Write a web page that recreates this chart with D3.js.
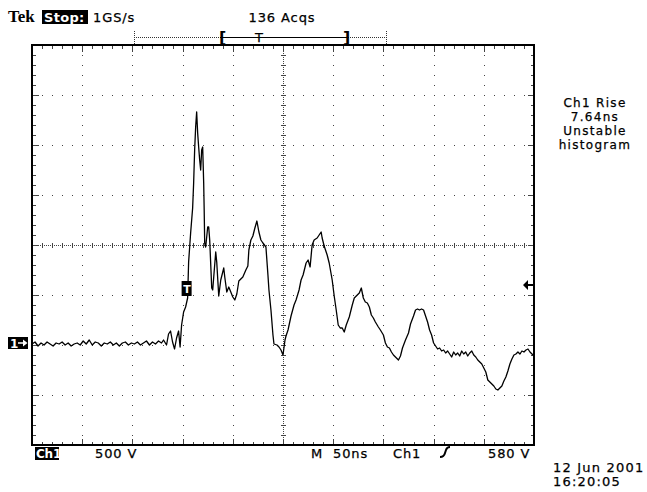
<!DOCTYPE html>
<html>
<head>
<meta charset="utf-8">
<script src="https://cdn.jsdelivr.net/npm/d3@7"></script>
<style>
  html, body { margin: 0; padding: 0; background: #fff; }
  svg { display: block; }
  text { font-family: "DejaVu Sans", sans-serif; font-size: 13px; fill: #000; letter-spacing: 0.9px; }
  text.ink { stroke: #000; stroke-width: 0.25px; }
</style>
</head>
<body>
<svg id="scope" width="647" height="492"></svg>
<script>
// Ch1 record: time from left of screen (ns) and voltage (V)
const baseTimeNs = [0,3,6,9,12,15,18,21,24,27,30,33,36,39,42,45,48,51,54,57,60,63,66,69,72,75,78,81,84,87,90,93,96,99,102,105,108,111,114,117,120,123,126,129];
const baseVolts  = [10,30,-10,20,0,30,10,-10,20,10,30,0,20,-10,10,20,0,40,10,50,0,30,20,-10,20,10,30,0,20,-10,20,30,0,20,10,30,0,20,40,0,30,10,40,20];

const pulseTimeNs = [131,134,136,138,140,142,144,146,147.5,149,151,153,155,156,158,160,161,162,163,164,165,166,167,168,169,170,171,171.5,172,173,175,176,177,179,180,181,183,184,186,188,191,192,194,196,198,200,202,204,206,210,213,215,216,218,220,222,224,226,228,230,233,235,236,238,240,241,244,246,248,250,252,253,255,258,261,263,266,268,270,273,275,277,279,281,284,286,288,289,291,294,296,299,301,303,305,307,309,311,313,316,319,321,324,326,328,330,332,334,336,338,340,342,345,347,350,352,354,356,358,360,362,365,367,369,372,375,377,380,382,384,386,388,390,392,394,396,398,400,402,404,406,408,410,412,414,416,418,420,422,424,426,428,430,432,434,436,438,440,442,444,446,448,450,452,454,456,458,460,462,464,466,468,470,472,474,476,478,480,482,484,486,488,490,492,494,496,498,500];
const pulseVolts  = [50,0,110,140,30,-40,70,140,-20,200,330,380,470,830,1120,1370,1620,1950,2180,2330,2120,1980,1850,1750,1950,1980,1620,1350,1020,980,1180,1180,1050,570,550,680,930,830,490,650,770,680,530,580,530,480,450,510,640,680,750,790,950,1050,1090,1170,1240,1130,1050,1020,980,700,550,350,100,10,0,-20,-50,-100,50,90,150,290,400,450,550,650,700,820,850,780,1000,1050,1070,1100,1130,1070,990,900,820,650,490,350,200,170,170,130,200,280,400,470,500,520,570,470,430,420,380,300,270,230,180,150,100,20,-20,-30,-70,-100,-120,-150,-110,-30,50,120,210,290,350,360,350,360,350,290,230,150,100,20,-10,-40,-30,-60,-50,-80,-60,-90,-120,-70,-100,-80,-110,-60,-90,-70,-110,-80,-60,-100,-120,-150,-170,-190,-230,-270,-350,-370,-390,-410,-440,-450,-430,-410,-360,-320,-260,-190,-140,-100,-90,-70,-90,-60,-70,-50,-40,-70,-90,-110];

// Display settings
const timePerDivNs = 50;
const voltsPerDiv = 500;
const triggerLevelV = 580;
const triggerTimeNs = 154;

const timeNs = baseTimeNs.concat(pulseTimeNs);
const volts = baseVolts.concat(pulseVolts);
const trace = timeNs.map((t, i) => ({ t, v: volts[i] }));

const svg = d3.select("#scope");
const plotL = 32, plotT = 45, plotR = 534, plotB = 445;

const x = d3.scaleLinear().domain([0, 10 * timePerDivNs]).range([plotL, plotR]);
const y = d3.scaleLinear().domain([-2 * voltsPerDiv, 6 * voltsPerDiv]).range([plotB, plotT]);

const majorT = d3.range(0, 10 * timePerDivNs + 1, timePerDivNs);
const minorT = d3.range(0, 10 * timePerDivNs + 1, timePerDivNs / 5);
const majorV = d3.range(-2 * voltsPerDiv, 6 * voltsPerDiv + 1, voltsPerDiv);
const minorV = d3.range(-2 * voltsPerDiv, 6 * voltsPerDiv + 1, voltsPerDiv / 5);
const centerT = 5 * timePerDivNs, centerV = 2 * voltsPerDiv;

const grid = svg.append("g").attr("shape-rendering", "crispEdges").attr("fill", "#444");
const dot = (px, py, w = 1, h = 1) =>
  grid.append("rect").attr("x", Math.round(px)).attr("y", Math.round(py)).attr("width", w).attr("height", h);

// graticule dots on inner major lines
majorT.slice(1, -1).filter(t => t !== centerT).forEach(t => {
  minorV.slice(1, -1).forEach(v => dot(x(t), y(v)));
});
majorV.slice(1, -1).filter(v => v !== centerV).forEach(v => {
  minorT.slice(1, -1).forEach(t => dot(x(t), y(v)));
});

// center cross: fine dotted line with minor ticks
d3.range(plotL + 2, plotR - 1, 2).forEach(px => dot(px, y(centerV)));
d3.range(plotT + 2, plotB - 1, 2).forEach(py => dot(x(centerT), py));
minorT.slice(1, -1).forEach(t => dot(x(t), y(centerV) - 2, 1, 5));
minorV.slice(1, -1).forEach(v => dot(x(centerT) - 2, y(v), 5, 1));

// edge ticks along the frame
minorT.slice(1, -1).forEach(t => {
  const len = majorT.includes(t) ? 6 : 3;
  dot(x(t), plotT + 1, 1, len);
  dot(x(t), plotB - len, 1, len);
});
minorV.slice(1, -1).forEach(v => {
  const len = majorV.includes(v) ? 6 : 3;
  dot(plotL + 1, y(v), len, 1);
  dot(plotR - len, y(v), len, 1);
});

// frame
svg.append("rect")
  .attr("x", plotL).attr("y", plotT).attr("width", plotR - plotL).attr("height", plotB - plotT)
  .attr("fill", "none").attr("stroke", "#000").attr("stroke-width", 2)
  .attr("shape-rendering", "crispEdges");

// waveform
const line = d3.line().x(d => x(d.t)).y(d => y(d.v));
svg.append("path").datum(trace)
  .attr("d", line)
  .attr("fill", "none").attr("stroke", "#000").attr("stroke-width", 1.3)
  .attr("stroke-linejoin", "round");

// trigger point marker "T"
const tx = x(triggerTimeNs), ty = y(triggerLevelV);
svg.append("rect").attr("x", tx - 5).attr("y", ty - 6).attr("width", 10).attr("height", 15).attr("fill", "#000");
svg.append("text").attr("x", tx + 0.5).attr("y", ty + 6).attr("text-anchor", "middle")
  .style("fill", "#fff").style("font-size", "11px").style("font-weight", "bold").style("letter-spacing", "0").text("T");

// trigger level arrow on right edge
const ay = y(triggerLevelV) - 2;
svg.append("path")
  .attr("d", `M${plotR - 11},${ay} L${plotR - 6},${ay - 5} L${plotR - 6},${ay - 1} L${plotR},${ay - 1} L${plotR},${ay + 1} L${plotR - 6},${ay + 1} L${plotR - 6},${ay + 5} Z`)
  .attr("fill", "#000");

// channel 1 ground marker
const gy = y(0) - 2;
svg.append("rect").attr("x", 8).attr("y", gy - 6).attr("width", 20).attr("height", 12).attr("fill", "#000");
svg.append("text").attr("x", 10).attr("y", gy + 5).style("fill", "#fff")
  .style("font-size", "12px").style("font-weight", "bold").style("letter-spacing", "0").text("1");
svg.append("path")
  .attr("d", `M18,${gy - 0.7} L23,${gy - 0.7} L23,${gy - 3.5} L27.5,${gy} L23,${gy + 3.5} L23,${gy + 0.7} L18,${gy + 0.7} Z`)
  .attr("fill", "#fff");

// record bar with trigger position
const barY = 37, barL = 134, barR = 386, brL = 220, brR = 347, barT = 259;
const bar = svg.append("g").attr("shape-rendering", "crispEdges");
d3.range(barL, barR, 2).filter(px => px < brL || px > brR).forEach(px =>
  bar.append("rect").attr("x", px).attr("y", barY).attr("width", 1).attr("height", 1).attr("fill", "#333"));
bar.append("rect").attr("x", brL).attr("y", barY).attr("width", brR - brL).attr("height", 1).attr("fill", "#000");
[barL, barR].forEach(px => d3.range(barY - 6, barY + 7, 2).forEach(py =>
  bar.append("rect").attr("x", px).attr("y", py).attr("width", 1).attr("height", 1).attr("fill", "#333")));
svg.append("text").attr("x", brL - 1).attr("y", barY + 6).style("font-size", "16px").style("font-weight", "bold").text("[");
svg.append("text").attr("x", brR - 4).attr("y", barY + 6).style("font-size", "16px").style("font-weight", "bold").text("]");
svg.append("text").attr("class", "ink").attr("x", barT).attr("y", barY + 5).attr("text-anchor", "middle").style("letter-spacing", "0").text("T");

// header
svg.append("text").attr("x", 8).attr("y", 22)
  .style("font-family", "'Liberation Serif', serif").style("font-weight", "bold").style("font-size", "17px")
  .style("letter-spacing", "0").text("Tek");
svg.append("rect").attr("x", 42).attr("y", 10).attr("width", 46).attr("height", 14).attr("fill", "#000");
svg.append("text").attr("x", 44).attr("y", 22).style("fill", "#fff").style("font-weight", "bold").style("letter-spacing", "0.3px").text("Stop:");
svg.append("text").attr("class", "ink").attr("x", 93).attr("y", 22).text("1GS/s");
svg.append("text").attr("class", "ink").attr("x", 282).attr("y", 22).attr("text-anchor", "middle").text("136 Acqs");

// measurement readout
const readout = ["Ch1 Rise", "7.64ns", "Unstable", "histogram"];
readout.forEach((s, i) => svg.append("text").attr("class", "ink").attr("x", 595).attr("y", 107 + i * 14)
  .attr("text-anchor", "middle").style("font-size", "12px").style("letter-spacing", "1.3px").text(s));

// footer settings
svg.append("rect").attr("x", 35).attr("y", 447).attr("width", 24).attr("height", 13).attr("fill", "#000");
svg.append("text").attr("x", 36).attr("y", 458).style("fill", "#fff").style("font-weight", "bold")
  .style("font-size", "12px").style("letter-spacing", "-0.2px").text("Ch1");
svg.append("text").attr("class", "ink").attr("x", 95).attr("y", 458).text("500 V");
svg.append("text").attr("class", "ink").attr("x", 311).attr("y", 458).text("M");
svg.append("text").attr("class", "ink").attr("x", 333).attr("y", 458).text("50ns");
svg.append("text").attr("class", "ink").attr("x", 393).attr("y", 458).text("Ch1");
svg.append("path").attr("d", "M440,457 Q444,457 445,453 L446,450 Q447,447 450,447")
  .attr("fill", "none").attr("stroke", "#000").attr("stroke-width", 2);
svg.append("text").attr("class", "ink").attr("x", 488).attr("y", 458).text("580 V");
svg.append("text").attr("class", "ink").attr("x", 553).attr("y", 472).style("letter-spacing", "1.2px").text("12 Jun 2001");
svg.append("text").attr("class", "ink").attr("x", 553).attr("y", 486).style("letter-spacing", "1.2px").text("16:20:05");
</script>
</body>
</html>
